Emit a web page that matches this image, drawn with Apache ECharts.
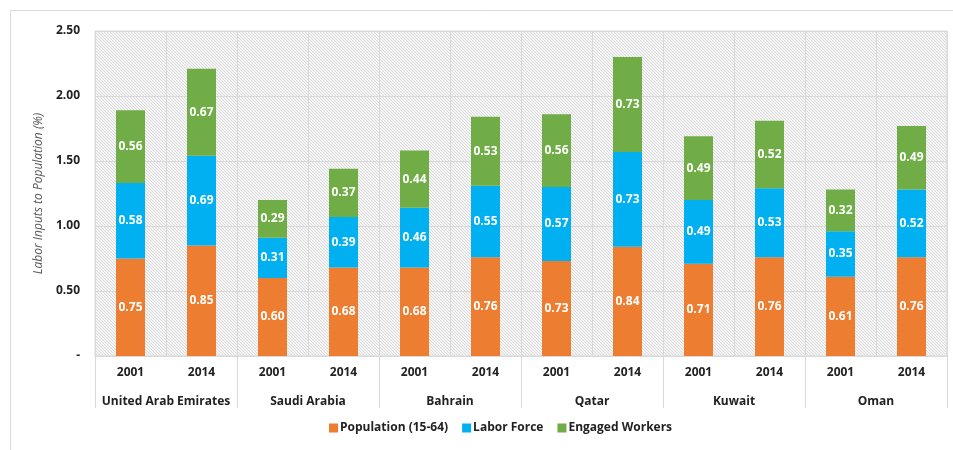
<!DOCTYPE html>
<html>
<head>
<meta charset="utf-8">
<script src="https://cdn.jsdelivr.net/npm/echarts@6/dist/echarts.min.js"></script>
<style>
  html, body { margin: 0; padding: 0; background: #fff; }
  #chart { width: 953px; height: 450px; }
</style>
</head>
<body>
<div id="chart"></div>
<script>
const years = ['2001', '2014', '2001', '2014', '2001', '2014', '2001', '2014', '2001', '2014', '2001', '2014'];
const countries = ['United Arab Emirates', 'Saudi Arabia', 'Bahrain', 'Qatar', 'Kuwait', 'Oman'];
const population = [0.75, 0.85, 0.60, 0.68, 0.68, 0.76, 0.73, 0.84, 0.71, 0.76, 0.61, 0.76];
const laborForce = [0.58, 0.69, 0.31, 0.39, 0.46, 0.55, 0.57, 0.73, 0.49, 0.53, 0.35, 0.52];
const engaged = [0.56, 0.67, 0.29, 0.37, 0.44, 0.53, 0.56, 0.73, 0.49, 0.52, 0.32, 0.49];

const font = '"Open Sans", "Liberation Sans", sans-serif';

// hatched plot background
const makeHatch = () => {
  const c = document.createElement('canvas');
  c.width = 6; c.height = 6;
  const ctx = c.getContext('2d');
  ctx.fillStyle = '#f4f4f4';
  ctx.fillRect(0, 0, 6, 6);
  ctx.strokeStyle = '#dcdcdc';
  ctx.lineWidth = 1;
  ctx.beginPath();
  for (let k = -6; k <= 12; k += 3) {
    ctx.moveTo(k, 0);
    ctx.lineTo(k + 6, 6);
  }
  ctx.stroke();
  return c;
};

const chart = echarts.init(document.getElementById('chart'));

const labelStyle = {
  show: true,
  color: '#fff',
  fontWeight: 'bold',
  fontSize: 12,
  fontFamily: font,
  formatter: p => p.value.toFixed(2)
};

const makeSeries = (name, data, color) => ({
  name: name,
  type: 'bar',
  stack: 'total',
  data: data,
  barWidth: 29,
  itemStyle: { color: color },
  label: labelStyle
});

const option = {
  animation: false,
  graphic: [{
    type: 'rect',
    shape: { x: 10.5, y: 10.5, width: 960, height: 460 },
    style: { fill: 'none', stroke: '#d9d9d9', lineWidth: 1 },
    silent: true
  }],
  grid: {
    left: 95,
    right: 6,
    top: 31,
    bottom: 94,
    show: true,
    backgroundColor: { image: makeHatch(), repeat: 'repeat' },
    borderColor: '#d9d9d9',
    borderWidth: 1
  },
  legend: {
    bottom: 11,
    left: 324,
    itemWidth: 9,
    itemHeight: 9,
    itemGap: 14,
    icon: 'rect',
    textStyle: { fontFamily: font, fontWeight: 'bold', fontSize: 12, color: '#222', padding: [0, 0, 0, -3] },
    data: ['Population (15-64)', 'Labor Force', 'Engaged Workers']
  },
  xAxis: [{
    type: 'category',
    data: years,
    position: 'bottom',
    axisLine: { lineStyle: { color: '#d9d9d9' } },
    axisTick: {
      show: true,
      length: 52,
      interval: (i) => i % 2 === 0,
      lineStyle: { color: '#d9d9d9' }
    },
    splitLine: { show: true, interval: 0, lineStyle: { color: '#d9d9d9' } },
    axisLabel: { color: '#222', fontWeight: 'bold', fontSize: 12, fontFamily: font, margin: 11 }
  }, {
    type: 'category',
    data: countries,
    position: 'bottom',
    offset: 32,
    axisLine: { show: false },
    axisTick: { show: false },
    axisLabel: { color: '#222', fontWeight: 'bold', fontSize: 12, fontFamily: font, margin: 8, interval: 0 }
  }],
  yAxis: {
    type: 'value',
    min: 0,
    max: 2.5,
    interval: 0.5,
    name: 'Labor Inputs to Population (%)',
    nameLocation: 'middle',
    nameGap: 50,
    nameMoveOverlap: false,
    nameTextStyle: { fontStyle: 'italic', color: '#595959', fontSize: 12, fontFamily: font },
    axisLine: { show: false },
    axisTick: { show: false },
    splitLine: { lineStyle: { color: '#d9d9d9' } },
    axisLabel: {
      color: '#222',
      fontWeight: 'bold',
      fontSize: 12,
      fontFamily: font,
      margin: 15,
      formatter: v => (v === 0 ? '-' : v.toFixed(2))
    }
  },
  series: [
    makeSeries('Population (15-64)', population, '#ED7D31'),
    makeSeries('Labor Force', laborForce, '#00B0F0'),
    makeSeries('Engaged Workers', engaged, '#70AD47')
  ]
};

chart.setOption(option);
</script>
</body>
</html>
